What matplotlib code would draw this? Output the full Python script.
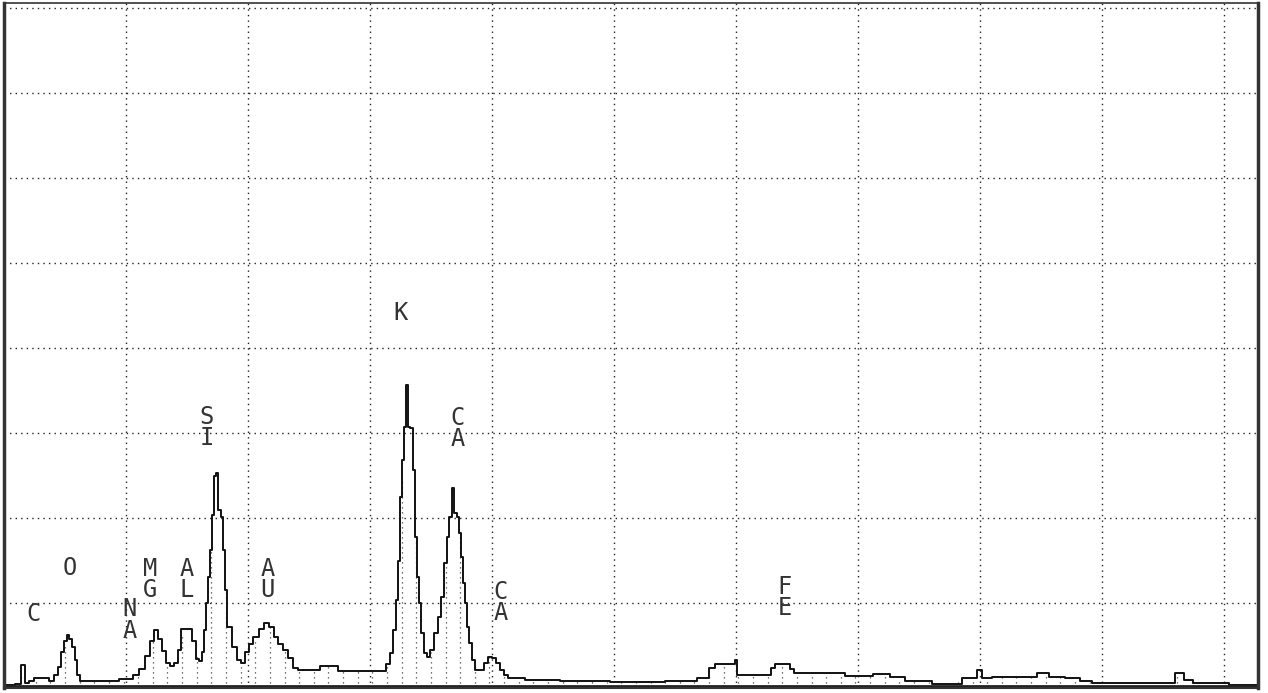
import matplotlib
matplotlib.use("Agg")
import matplotlib.pyplot as plt
import numpy as np

# spectrum trace: energy [keV] vs counts [grid divisions]
energy_kev = [
    0.00, 0.05, 0.13, 0.15, 0.16, 0.18, 0.23, 0.26, 0.34, 0.39,
    0.43, 0.46, 0.48, 0.51, 0.52, 0.54, 0.57, 0.59, 0.61, 0.64,
    0.79, 0.91, 0.98, 1.03, 1.08, 1.13, 1.18, 1.21, 1.25, 1.28,
    1.31, 1.34, 1.38, 1.41, 1.44, 1.47, 1.53, 1.56, 1.59, 1.61,
    1.63, 1.65, 1.66, 1.68, 1.70, 1.71, 1.73, 1.75, 1.76, 1.79,
    1.80, 1.82, 1.84, 1.89, 1.93, 1.96, 1.99, 2.02, 2.07, 2.11,
    2.15, 2.19, 2.23, 2.27, 2.31, 2.35, 2.39, 2.43, 2.57, 2.61,
    2.72, 2.75, 3.11, 3.15, 3.18, 3.20, 3.22, 3.24, 3.25, 3.27,
    3.29, 3.30, 3.32, 3.34, 3.36, 3.38, 3.39, 3.41, 3.43, 3.45,
    3.48, 3.51, 3.54, 3.57, 3.60, 3.62, 3.64, 3.66, 3.68, 3.70,
    3.72, 3.74, 3.75, 3.77, 3.79, 3.80, 3.83, 3.85, 3.88, 3.92,
    3.95, 3.98, 4.02, 4.05, 4.08, 4.11, 4.16, 4.39, 4.72, 5.21,
    5.62, 5.75, 5.81, 5.84, 5.98, 6.00, 6.02, 6.28, 6.30, 6.34,
    6.43, 6.46, 6.50, 6.77, 7.02, 7.22, 7.30, 7.47, 7.75, 7.96,
    8.00, 8.04, 8.16, 8.41, 8.53, 8.61, 8.78, 8.86, 8.98, 9.56,
    9.64, 9.70, 9.80, 10.28,
]
counts = [
    0.04, 0.04, 0.05, 0.27, 0.27, 0.06, 0.08, 0.12, 0.12, 0.08,
    0.15, 0.25, 0.42, 0.55, 0.62, 0.58, 0.48, 0.33, 0.15, 0.08,
    0.08, 0.08, 0.11, 0.11, 0.15, 0.22, 0.38, 0.55, 0.68, 0.58,
    0.44, 0.30, 0.26, 0.30, 0.45, 0.69, 0.69, 0.55, 0.34, 0.32,
    0.42, 0.68, 1.00, 1.31, 1.62, 2.04, 2.50, 2.53, 2.10, 2.01,
    1.62, 1.15, 0.72, 0.48, 0.33, 0.30, 0.42, 0.52, 0.60, 0.70,
    0.76, 0.72, 0.60, 0.52, 0.45, 0.35, 0.24, 0.21, 0.21, 0.26,
    0.26, 0.20, 0.20, 0.28, 0.41, 0.68, 1.04, 1.50, 2.25, 2.68,
    3.07, 3.56, 3.07, 3.06, 2.56, 1.78, 1.31, 1.00, 0.65, 0.41,
    0.36, 0.45, 0.65, 0.84, 1.07, 1.47, 1.78, 2.01, 2.35, 2.06,
    2.01, 1.82, 1.54, 1.24, 1.00, 0.72, 0.53, 0.33, 0.21, 0.21,
    0.29, 0.36, 0.35, 0.29, 0.21, 0.15, 0.12, 0.10, 0.08, 0.07,
    0.08, 0.12, 0.24, 0.28, 0.28, 0.33, 0.15, 0.15, 0.24, 0.28,
    0.28, 0.22, 0.18, 0.18, 0.14, 0.16, 0.13, 0.08, 0.05, 0.12,
    0.21, 0.12, 0.13, 0.13, 0.18, 0.13, 0.12, 0.08, 0.06, 0.06,
    0.18, 0.10, 0.06, 0.04,
]

# element markers as printed on the chart
label_text = ["C", "O", "N\nA", "M\nG", "A\nL", "S\nI", "A\nU", "K", "C\nA", "C\nA", "F\nE"]
label_x = [0.24, 0.54, 1.03, 1.20, 1.50, 1.66, 2.16, 3.25, 3.72, 4.07, 6.40]
label_y = [0.87, 1.41, 0.80, 1.28, 1.28, 3.07, 1.28, 4.41, 3.05, 1.01, 1.06]

x_max = 10.28
y_max = 8.06

fig = plt.figure(figsize=(12.68, 6.93), dpi=100)
ax = fig.add_axes([4 / 1268, 5 / 693, 1254 / 1268, 685 / 693])
ax.set_xlim(0, x_max)
ax.set_ylim(0, y_max)

ax.set_xticks(np.arange(0, 11))
ax.set_yticks(np.arange(0, 9))
ax.tick_params(length=0, labelbottom=False, labelleft=False)
ax.grid(True, color="#222222", linestyle=(0, (1, 3)), linewidth=1.0)

# dotted hatching under the trace
fill_x = np.arange(0.02, x_max, 0.12)
fill_h = np.interp(fill_x, energy_kev, counts)
ax.vlines(fill_x, 0, fill_h, color="#444444", linestyle=(0, (1, 3)), linewidth=0.9)

ax.plot(energy_kev, counts, drawstyle="steps-mid", color="#111111", linewidth=1.4)
ax.axhline(0.02, color="#222222", linewidth=2)

for text, x, y in zip(label_text, label_x, label_y):
    ax.text(x, y, text, ha="center", va="center", fontsize=17,
            family="DejaVu Sans Mono", color="#333333", linespacing=0.85)

for side, lw in [("left", 2.5), ("right", 2.5), ("top", 1.2), ("bottom", 1.5)]:
    ax.spines[side].set_linewidth(lw)
    ax.spines[side].set_color("#333333")

fig.savefig("out.png", dpi=100)
